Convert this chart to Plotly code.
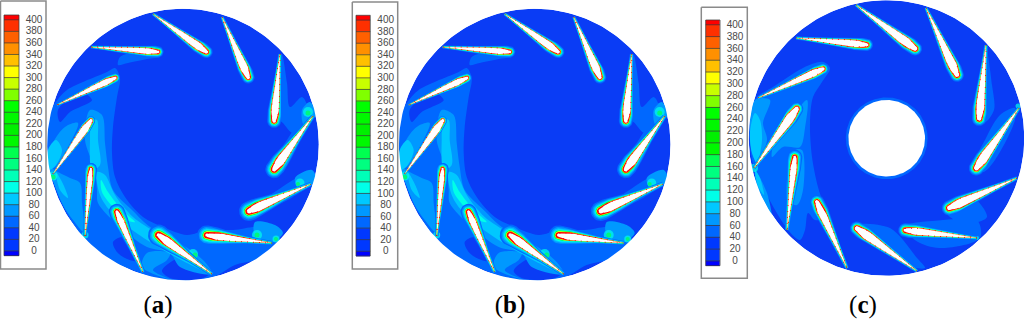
import numpy as np
import plotly.graph_objects as go

# ---------- legend ----------
LEVEL_LABELS = [400,380,360,340,320,300,280,260,240,220,200,180,160,140,120,100,80,60,40,20,0]
BAND_COLORS = ["#ff0000","#ff3000","#ff6000","#ff9000","#ffc000","#ffff00","#c8ff00","#80ff00",
               "#00ff00","#00f800","#00f000","#00f800","#00ff50","#00ff80","#00ffb8","#00ffe8",
               "#00c8ff","#0098ff","#0068ff","#0038ff","#0000ff"]
BAND_COLORS = BAND_COLORS[:20] + ["#0038ff", "#0000ff"]
C20, C40, C60, C80, C100, C120, C160, C320, C400 = "#0a3cf5","#0068ff","#0098ff","#00c8ff","#00ffe8","#00ffb8","#00ff50","#ffff00","#ff0000"

# ---------- geometry ----------
DISK_A = (183.0, 144.5, 135.8)
DISK_B = (534.7, 144.5, 135.8)
DISK_C = (886.5, 138.0, 137.8)
HOLE_C = (886.7, 138.3, 38.3)
B_SHIFT = 351.7

HEADS_A = [(160,52),(208,53),(249,79),(274,123),(273,171),(247,212),(205,235),(157,234),(116,210),(91,167),(92,119),(117,77)]
TAILS_A = [(91,47),(153,14),(222,17),(280,54),(313,116),(311,184),(272,243),(212,274),(143,272),(85,236),(53,174),(57,105)]
THICK_A = [3.0,3.7,3.9,3.7,4.3,4.3,3.4,3.9,3.2,2.6,3.6,3.0]
HEAT_A  = [0.8,0.85,0.85,1.0,1.3,1.5,1.6,1.7,1.25,0.95,0.5,0.65]

HEADS_C = [(869,45),(917,50),(958,77),(979,121),(975,170),(947,209),(903,230),(855,227),(816,200),(795,155),(798,107),(825,68)]
TAILS_C = [(796,38),(856,5),(926,8),(986,45),(1019,108),(1017,178),(977,238),(917,271),(847,268),(787,230),(754,168),(758,98)]
THICK_C = [3.4,4.3,4.3,4.1,4.6,4.3,3.5,4.3,3.9,3.2,4.4,3.5]
HEAT_C  = [0.85,0.9,0.9,1.0,1.0,1.0,1.0,0.9,1.0,1.15,0.85,0.75]

PROFILE_T = [0.00,0.03,0.08,0.18,0.35,0.55,0.75,0.90,1.00]
PROFILE_H = [0.40,0.52,0.76,1.00,0.90,0.58,0.30,0.10,0.01]

# halo bands: colour, margin at the head, margin at the tail (px)
HALO_COLORS = [C40, C60, C80, C100, C160, C320, C400]
HALO_HEAD   = [5.5, 4.4, 3.5, 2.7, 2.1, 1.5, 1.1]
HALO_TAIL   = [1.8, 1.3, 0.9, 0.55, 0.3, 0.0, 0.0]

# contour regions, panel a (b is the same picture shifted)
A40 = [
 [(55,103),(67,90),(107,72),(115,68),(120,78),(117,97),(113,127),(112,153),(115,177),(125,197),(143,217),(163,227),(187,235),(207,230),(233,230),(257,227),(277,233),(280,240),(265,257),(235,265),(213,277),(167,281),(143,274),(100,255),(83,238),(60,200),(50,167),(47,140),(50,113)],
 [(248,207),(267,197),(293,180),(310,172),(315,180),(293,197),(267,210),(253,217)],
 [(272,163),(287,140),(302,115),(307,103),(315,113),(297,143),(280,170)],
 [(282,55),(287,83),(290,107),(302,97),(307,107),(293,133),(283,123),(277,117)],
 [(120,57),(133,53),(160,57),(147,59),(128,63),(118,65)],
]
A20 = [
 [(113,242),(123,237),(133,255),(135,261),(125,258),(117,252)],
 [(162,271),(180,258),(210,273),(200,279),(170,278)],
 [(58,110),(80,92),(92,100),(70,112),(60,122)],
]
A60 = [
 [(90,110),(102,115),(105,143),(108,167),(113,190),(132,210),(150,227),(170,237),(203,260),(212,274),(180,267),(170,253),(147,247),(120,227),(98,203),(97,190),(95,170),(85,140)],
 [(53,143),(65,127),(78,123),(68,147),(55,167),(48,170)],
 [(50,168),(58,172),(70,178),(80,183),(82,203),(84,232),(73,220),(63,205)],
 [(142,267),(147,253),(170,253),(167,260),(153,270),(172,280)],
 [(255,222),(275,225),(283,233),(270,243),(255,236)],
 [(295,178),(312,170),(316,180),(300,190)],
 [(302,110),(310,102),(316,115),(304,125)],
]
A80 = [
 [(97,172),(105,175),(115,195),(133,217),(157,233),(175,243),(198,262),(207,272),(185,262),(160,248),(135,232),(112,213),(100,195)],
 [(92,120),(97,120),(98,140),(100,165),(92,170),(90,140)],
 [(48,150),(56,140),(62,150),(56,165),(49,170)],
 [(56,172),(64,186),(68,198),(60,190)],
]
A100 = [
 [(101,180),(108,192),(122,210),(135,222),(126,220),(112,206),(102,192)],
 [(155,236),(172,245),(190,257),(178,254),(162,244)],
]
HOT_CYAN_X = [308,300,257,193,85,53,276]
HOT_CYAN_Y = [112,183,235,254,235,176,239]
HOT_CYAN_S = [10,9,10,10,7,9,7]
HOT_GREEN_X = [308,298,257,195,85,53,276]
HOT_GREEN_Y = [113,184,235,255,235,177,239]
HOT_GREEN_S = [5,4,5,5,3,5,4]

# contour regions, panel c
C_40 = [
 [(757,97),(773,87),(803,68),(823,62),(830,68),(822,82),(813,97),(810,123),(812,157),(818,187),(823,203),(827,217),(815,220),(808,213),(805,230),(800,240),(788,230),(754,167),(750,137),(753,107)],
 [(855,225),(890,228),(917,258),(925,268),(905,265),(880,243)],
 [(903,227),(943,220),(977,220),(980,238),(943,248),(920,243)],
 [(947,213),(957,197),(973,197),(987,217),(973,223),(955,220)],
 [(975,163),(985,140),(1000,115),(1015,108),(1015,120),(995,160),(983,172)],
 [(986,48),(992,85),(994,110),(985,122),(980,115)],
]
C_60 = [
 [(755,100),(770,100),(763,123),(767,140),(757,163),(750,140)],
 [(790,120),(807,100),(805,128),(800,147),(783,147),(772,157),(775,140)],
 [(755,170),(767,193),(772,217),(767,207),(757,187)],
 [(795,150),(802,150),(803,190),(797,205),(787,200)],
]
C_80 = [
 [(750,133),(755,113),(760,120),(762,140),(757,163),(752,153)],
 [(755,170),(760,178),(764,195),(758,186)],
]
HOT_CYAN_CX = [754,1018,977]
HOT_CYAN_CY = [168,106,238]
HOT_CYAN_CS = [8,5,4]

# ---------- legend placement ----------
BOX_A = (0.5,46,1,269);   BAR_A = (4,19,15,255.7)
BOX_B = (352.3,397.7,2,269); BAR_B = (356,370.3,15.3,256)
BOX_C = (701.3,747.3,7.3,278.3); BAR_C = (705.7,720,20,265.7)
LABEL_X = [34, 385.7, 735]
CAPTIONS = ["(<b>a</b>)","(<b>b</b>)","(<b>c</b>)"]
CAPTION_X = [158, 510, 863]
CAPTION_Y = [307, 307, 307]

# ---------- helpers ----------
fig = go.Figure()

def circle(cx, cy, r, n=240):
    a = np.linspace(0, 2*np.pi, n)
    return cx + r*np.cos(a), cy + r*np.sin(a)

def add_fill(xs, ys, color, spline=False):
    line = dict(width=0, color=color)
    if spline:
        line.update(shape="spline", smoothing=0.9)
    fig.add_trace(go.Scatter(x=xs, y=ys, mode="lines", fill="toself", fillcolor=color,
                             line=line, hoverinfo="skip", showlegend=False))

def add_polys(polys, color, dx=0.0):
    xs, ys = [], []
    for p in polys:
        xs += [q[0]+dx for q in p] + [p[0][0]+dx, None]
        ys += [q[1] for q in p] + [p[0][1], None]
    add_fill(xs, ys, color, spline=True)

def blade_outline(head, tail, thick, m_head, m_tail):
    head, tail = np.array(head, float), np.array(tail, float)
    d = tail - head; L = np.hypot(*d); u = d/L; n = np.array([-u[1], u[0]])
    t = np.linspace(0.03, 1, 50)
    m = m_tail + (m_head - m_tail)*(1 - t)**3.5
    h = thick*np.interp(t, PROFILE_T, PROFILE_H) + m
    side1 = head + np.outer(t*L, u) + np.outer(h, n)
    side2 = head + np.outer(t*L, u) - np.outer(h, n)
    c0 = head + 0.03*L*u
    ang = np.linspace(np.pi/2, 3*np.pi/2, 16)
    cap = np.array([c0 + h[0]*(np.cos(a)*u*1.0 + np.sin(a)*n) for a in ang])
    return np.vstack([side1[::-1], cap, side2])

def add_blades(heads, tails, thick, heat, dx=0.0):
    for col, mh, mt in zip(HALO_COLORS, HALO_HEAD, HALO_TAIL):
        xs, ys = [], []
        for H, T, th, k in zip(heads, tails, thick, heat):
            p = blade_outline(H, T, th, mh*k, mt*min(k, 1.15))
            xs += list(p[:,0]+dx) + [None]; ys += list(p[:,1]) + [None]
        add_fill(xs, ys, col)
    xs, ys = [], []
    for H, T, th in zip(heads, tails, thick):
        p = blade_outline(H, T, th, 0, 0)
        xs += list(p[:,0]+dx) + [None]; ys += list(p[:,1]) + [None]
    add_fill(xs, ys, "#ffffff")
    # speckled wall values along the blade edges
    xs, ys = [], []
    for H, T, th in zip(heads, tails, thick):
        p = blade_outline(H, T, th + 0.2, 0, 0.15)
        xs += list(p[:,0]+dx) + [None]; ys += list(p[:,1]) + [None]
    fig.add_trace(go.Scatter(x=xs, y=ys, mode="lines", hoverinfo="skip", showlegend=False,
                             line=dict(color=C400, width=0.9, dash="1px,5px")))

def add_hot(x, y, s, color, dx=0.0):
    fig.add_trace(go.Scatter(x=[v+dx for v in x], y=y, mode="markers", hoverinfo="skip", showlegend=False,
                             marker=dict(size=s, color=color, line=dict(width=0))))

def add_mask(disk):
    cx, cy, r = disk
    R = r + 3
    cxs, cys = circle(cx, cy, r)
    xs = [cx-R, cx+R, cx+R, cx-R, cx-R, cx+r] + list(cxs[::-1]) + [cx+r, cx-R]
    ys = [cy-R, cy-R, cy+R, cy+R, cy-R, cy]   + list(cys[::-1]) + [cy, cy-R]
    add_fill(xs, ys, "#ffffff")

def add_legend(box, bar, label_x):
    x0, x1, y0, y1 = box
    fig.add_trace(go.Scatter(x=[x0,x1,x1,x0,x0], y=[y0,y0,y1,y1,y0], mode="lines",
                             line=dict(color="#8a8a8a", width=1.5),
                             hoverinfo="skip", showlegend=False))
    bx0, bx1, by0, by1 = bar
    step = (by1 - by0 - 9.6)/20.0
    first = by0 + 4.8
    edges = [by0] + [first + i*step for i in range(21)] + [by1]
    n = len(BAND_COLORS)
    scale = []
    for i, c in enumerate(BAND_COLORS):
        scale += [[i/n, c], [(i+1)/n, c]]
    fig.add_trace(go.Heatmap(x=[bx0, bx1], y=edges, z=[[i+0.5] for i in range(n)], zmin=0, zmax=n,
                             colorscale=scale, showscale=False, hoverinfo="skip"))
    lx, ly = [], []
    for e in edges[1:-1]:
        lx += [bx0, bx1, None]; ly += [e, e, None]
    lx += [bx0,bx1,bx1,bx0,bx0]; ly += [by0,by0,by1,by1,by0]
    fig.add_trace(go.Scatter(x=lx, y=ly, mode="lines", line=dict(color="rgba(60,60,60,0.75)", width=1),
                             hoverinfo="skip", showlegend=False))
    fig.add_trace(go.Scatter(x=[label_x]*21, y=[e+0.6 for e in edges[1:-1]], mode="text",
                             text=[str(v) for v in LEVEL_LABELS], textposition="middle center",
                             textfont=dict(family="Liberation Sans", size=10, color="#4a4a4a"),
                             hoverinfo="skip", showlegend=False))

# ---------- panels a, b ----------
for disk, dx in ((DISK_A, 0.0), (DISK_B, B_SHIFT)):
    add_fill(*circle(*disk), C20)
    add_polys(A40, C40, dx)
    add_polys(A20, C20, dx)
    add_polys(A60, C60, dx)
    add_polys(A80, C80, dx)
    add_polys(A100, C100, dx)
    add_hot(HOT_CYAN_X, HOT_CYAN_Y, HOT_CYAN_S, C100, dx)
    add_hot(HOT_GREEN_X, HOT_GREEN_Y, HOT_GREEN_S, C160, dx)
    add_blades(HEADS_A, TAILS_A, THICK_A, HEAT_A, dx)
    add_mask(disk)

# ---------- panel c ----------
add_fill(*circle(*DISK_C), C20)
add_polys(C_40, C40)
add_polys(C_60, C60)
add_polys(C_80, C80)
add_hot(HOT_CYAN_CX, HOT_CYAN_CY, HOT_CYAN_CS, C100)
add_blades(HEADS_C, TAILS_C, THICK_C, HEAT_C)
add_fill(*circle(HOLE_C[0], HOLE_C[1], HOLE_C[2]+2.6), C40)
add_fill(*circle(*HOLE_C), "#ffffff")
add_mask(DISK_C)

# ---------- legends and captions ----------
add_legend(BOX_A, BAR_A, LABEL_X[0])
add_legend(BOX_B, BAR_B, LABEL_X[1])
add_legend(BOX_C, BAR_C, LABEL_X[2])
fig.add_trace(go.Scatter(x=CAPTION_X, y=CAPTION_Y, mode="text", text=CAPTIONS, textposition="middle center",
                         textfont=dict(family="Liberation Serif", size=25, color="#000000"),
                         hoverinfo="skip", showlegend=False))

fig.update_layout(width=1024, height=320, margin=dict(l=0, r=0, t=0, b=0), autosize=False,
                  paper_bgcolor="#ffffff", plot_bgcolor="#ffffff", showlegend=False,
                  xaxis=dict(range=[0,1024], visible=False, fixedrange=True),
                  yaxis=dict(range=[320,0], visible=False, fixedrange=True))
fig.write_html("out.html", config={"displayModeBar": False},
               post_script="document.body.style.margin='0';document.body.style.overflow='hidden';")
